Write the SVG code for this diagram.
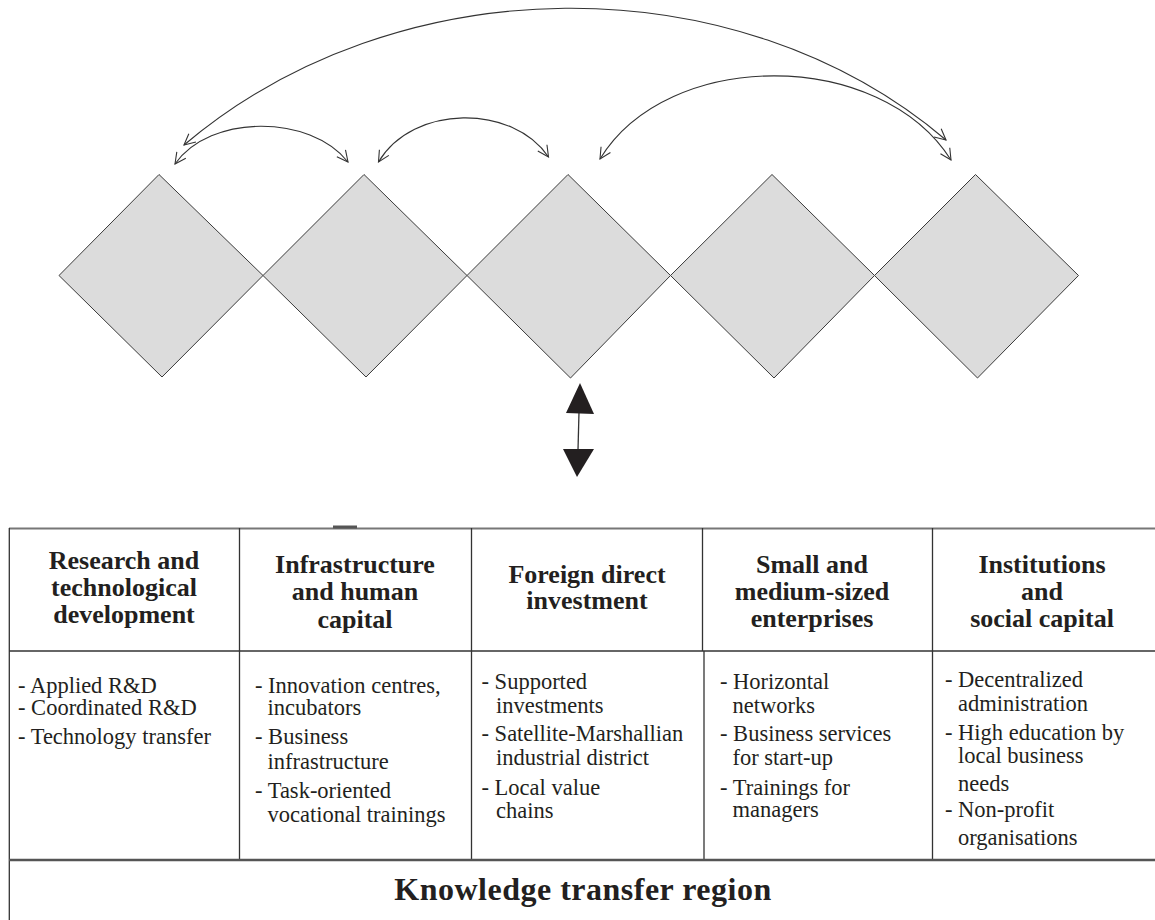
<svg xmlns="http://www.w3.org/2000/svg" width="1155" height="920" viewBox="0 0 1155 920">
<style>
.dia{fill:#dcdcdc;stroke:#3a3a3a;stroke-width:1}
.arc{fill:none;stroke:#333;stroke-width:1.1;marker-start:url(#v);marker-end:url(#v)}
.hd{font-family:"Liberation Serif","Times New Roman",serif;font-weight:bold;font-size:26px;fill:#231f20;text-anchor:middle}
.bd{font-family:"Liberation Serif","Times New Roman",serif;font-size:22.5px;fill:#231f20}
.ln{stroke:#333;stroke-width:1.3}
</style>
<defs>
<marker id="v" viewBox="0 0 13 13" refX="12" refY="6.5" markerWidth="13" markerHeight="13" markerUnits="userSpaceOnUse" orient="auto-start-reverse">
<path d="M1,1 L12,6.5 L1,12" fill="none" stroke="#333" stroke-width="1.1"/>
</marker>
</defs>
<g id="diamond1"><polygon class="dia" points="159,174.5 263,275.5 162,377 59,275.5"/></g>
<g id="diamond2"><polygon class="dia" points="364,174.5 467,275.5 366,377 263,275.5"/></g>
<g id="diamond3"><polygon class="dia" points="568,174.5 670.5,275.5 570.5,378 467,275.5"/></g>
<g id="diamond4"><polygon class="dia" points="772,174.5 874.5,275.5 774,378 670.5,275.5"/></g>
<g id="diamond5"><polygon class="dia" points="975.5,174.5 1078.5,275.5 977.5,378 874.5,275.5"/></g>
<g id="connectors">
<path class="arc" d="M184,145 C395,-34 735,-39 946,140"/>
<path class="arc" d="M175,164 C210,114 310,114 348,162"/>
<path class="arc" d="M378.5,162 C413,104 513,104 548.5,157"/>
<path class="arc" d="M600,159 C668,48 880,48 951,160"/>
<g id="double-arrow">
<line x1="579" y1="412" x2="578" y2="450" stroke="#333" stroke-width="1.3"/>
<polygon points="580,383 594,414 566,413" fill="#231f20"/>
<polygon points="563,449 594,449 577,477" fill="#231f20"/>
</g>
</g>
<g id="table">
<line x1="9" y1="528.5" x2="1155" y2="528.5" stroke="#777" stroke-width="2"/>
<line x1="333" y1="527" x2="357" y2="527" stroke="#555" stroke-width="3"/>
<line x1="9.3" y1="528" x2="9.3" y2="920" class="ln"/>
<line x1="9" y1="651" x2="1155" y2="651" stroke="#333" stroke-width="1.5"/>
<line x1="239.5" y1="528" x2="239.5" y2="860" class="ln"/>
<line x1="471.5" y1="528" x2="471.5" y2="860" class="ln"/>
<line x1="702.5" y1="528" x2="702.5" y2="651" class="ln"/>
<line x1="704" y1="651" x2="704" y2="860" class="ln"/>
<line x1="932.5" y1="528" x2="932.5" y2="860" class="ln"/>
<line x1="9" y1="860" x2="1155" y2="860" stroke="#555" stroke-width="2.5"/>
</g>
<g id="col1">
<text class="hd" x="124" y="569">Research and</text>
<text class="hd" x="124" y="596">technological</text>
<text class="hd" x="124" y="623">development</text>
<text class="bd" x="18" y="693">- Applied R&amp;D</text>
<text class="bd" x="18" y="715">- Coordinated R&amp;D</text>
<text class="bd" x="18" y="744">- Technology transfer</text>
</g>
<g id="col2">
<text class="hd" x="355" y="573">Infrastructure</text>
<text class="hd" x="355" y="600">and human</text>
<text class="hd" x="355" y="628">capital</text>
<text class="bd" x="255" y="693">- Innovation centres,</text>
<text class="bd" x="267.5" y="715">incubators</text>
<text class="bd" x="255" y="744">- Business</text>
<text class="bd" x="267.5" y="769">infrastructure</text>
<text class="bd" x="255" y="798">- Task-oriented</text>
<text class="bd" x="267.5" y="822">vocational trainings</text>
</g>
<g id="col3">
<text class="hd" x="587" y="582.5">Foreign direct</text>
<text class="hd" x="587" y="609">investment</text>
<text class="bd" x="481.5" y="689">- Supported</text>
<text class="bd" x="496" y="713">investments</text>
<text class="bd" x="481.5" y="741">- Satellite-Marshallian</text>
<text class="bd" x="496" y="765">industrial district</text>
<text class="bd" x="481.5" y="795">- Local value</text>
<text class="bd" x="496" y="817.5">chains</text>
</g>
<g id="col4">
<text class="hd" x="812" y="573">Small and</text>
<text class="hd" x="812" y="600">medium-sized</text>
<text class="hd" x="812" y="627">enterprises</text>
<text class="bd" x="720" y="689">- Horizontal</text>
<text class="bd" x="732.5" y="713">networks</text>
<text class="bd" x="720" y="741">- Business services</text>
<text class="bd" x="732.5" y="765">for start-up</text>
<text class="bd" x="720" y="795">- Trainings for</text>
<text class="bd" x="732.5" y="817">managers</text>
</g>
<g id="col5">
<text class="hd" x="1042" y="573">Institutions</text>
<text class="hd" x="1042" y="600">and</text>
<text class="hd" x="1042" y="627">social capital</text>
<text class="bd" x="945" y="687">- Decentralized</text>
<text class="bd" x="958" y="711">administration</text>
<text class="bd" x="945" y="740">- High education by</text>
<text class="bd" x="958" y="763">local business</text>
<text class="bd" x="958" y="791">needs</text>
<text class="bd" x="945" y="817">- Non-profit</text>
<text class="bd" x="958" y="845">organisations</text>
</g>
<g id="footer">
<text class="hd" x="583" y="900" style="font-size:32px;letter-spacing:0.5px">Knowledge transfer region</text>
</g>
</svg>
